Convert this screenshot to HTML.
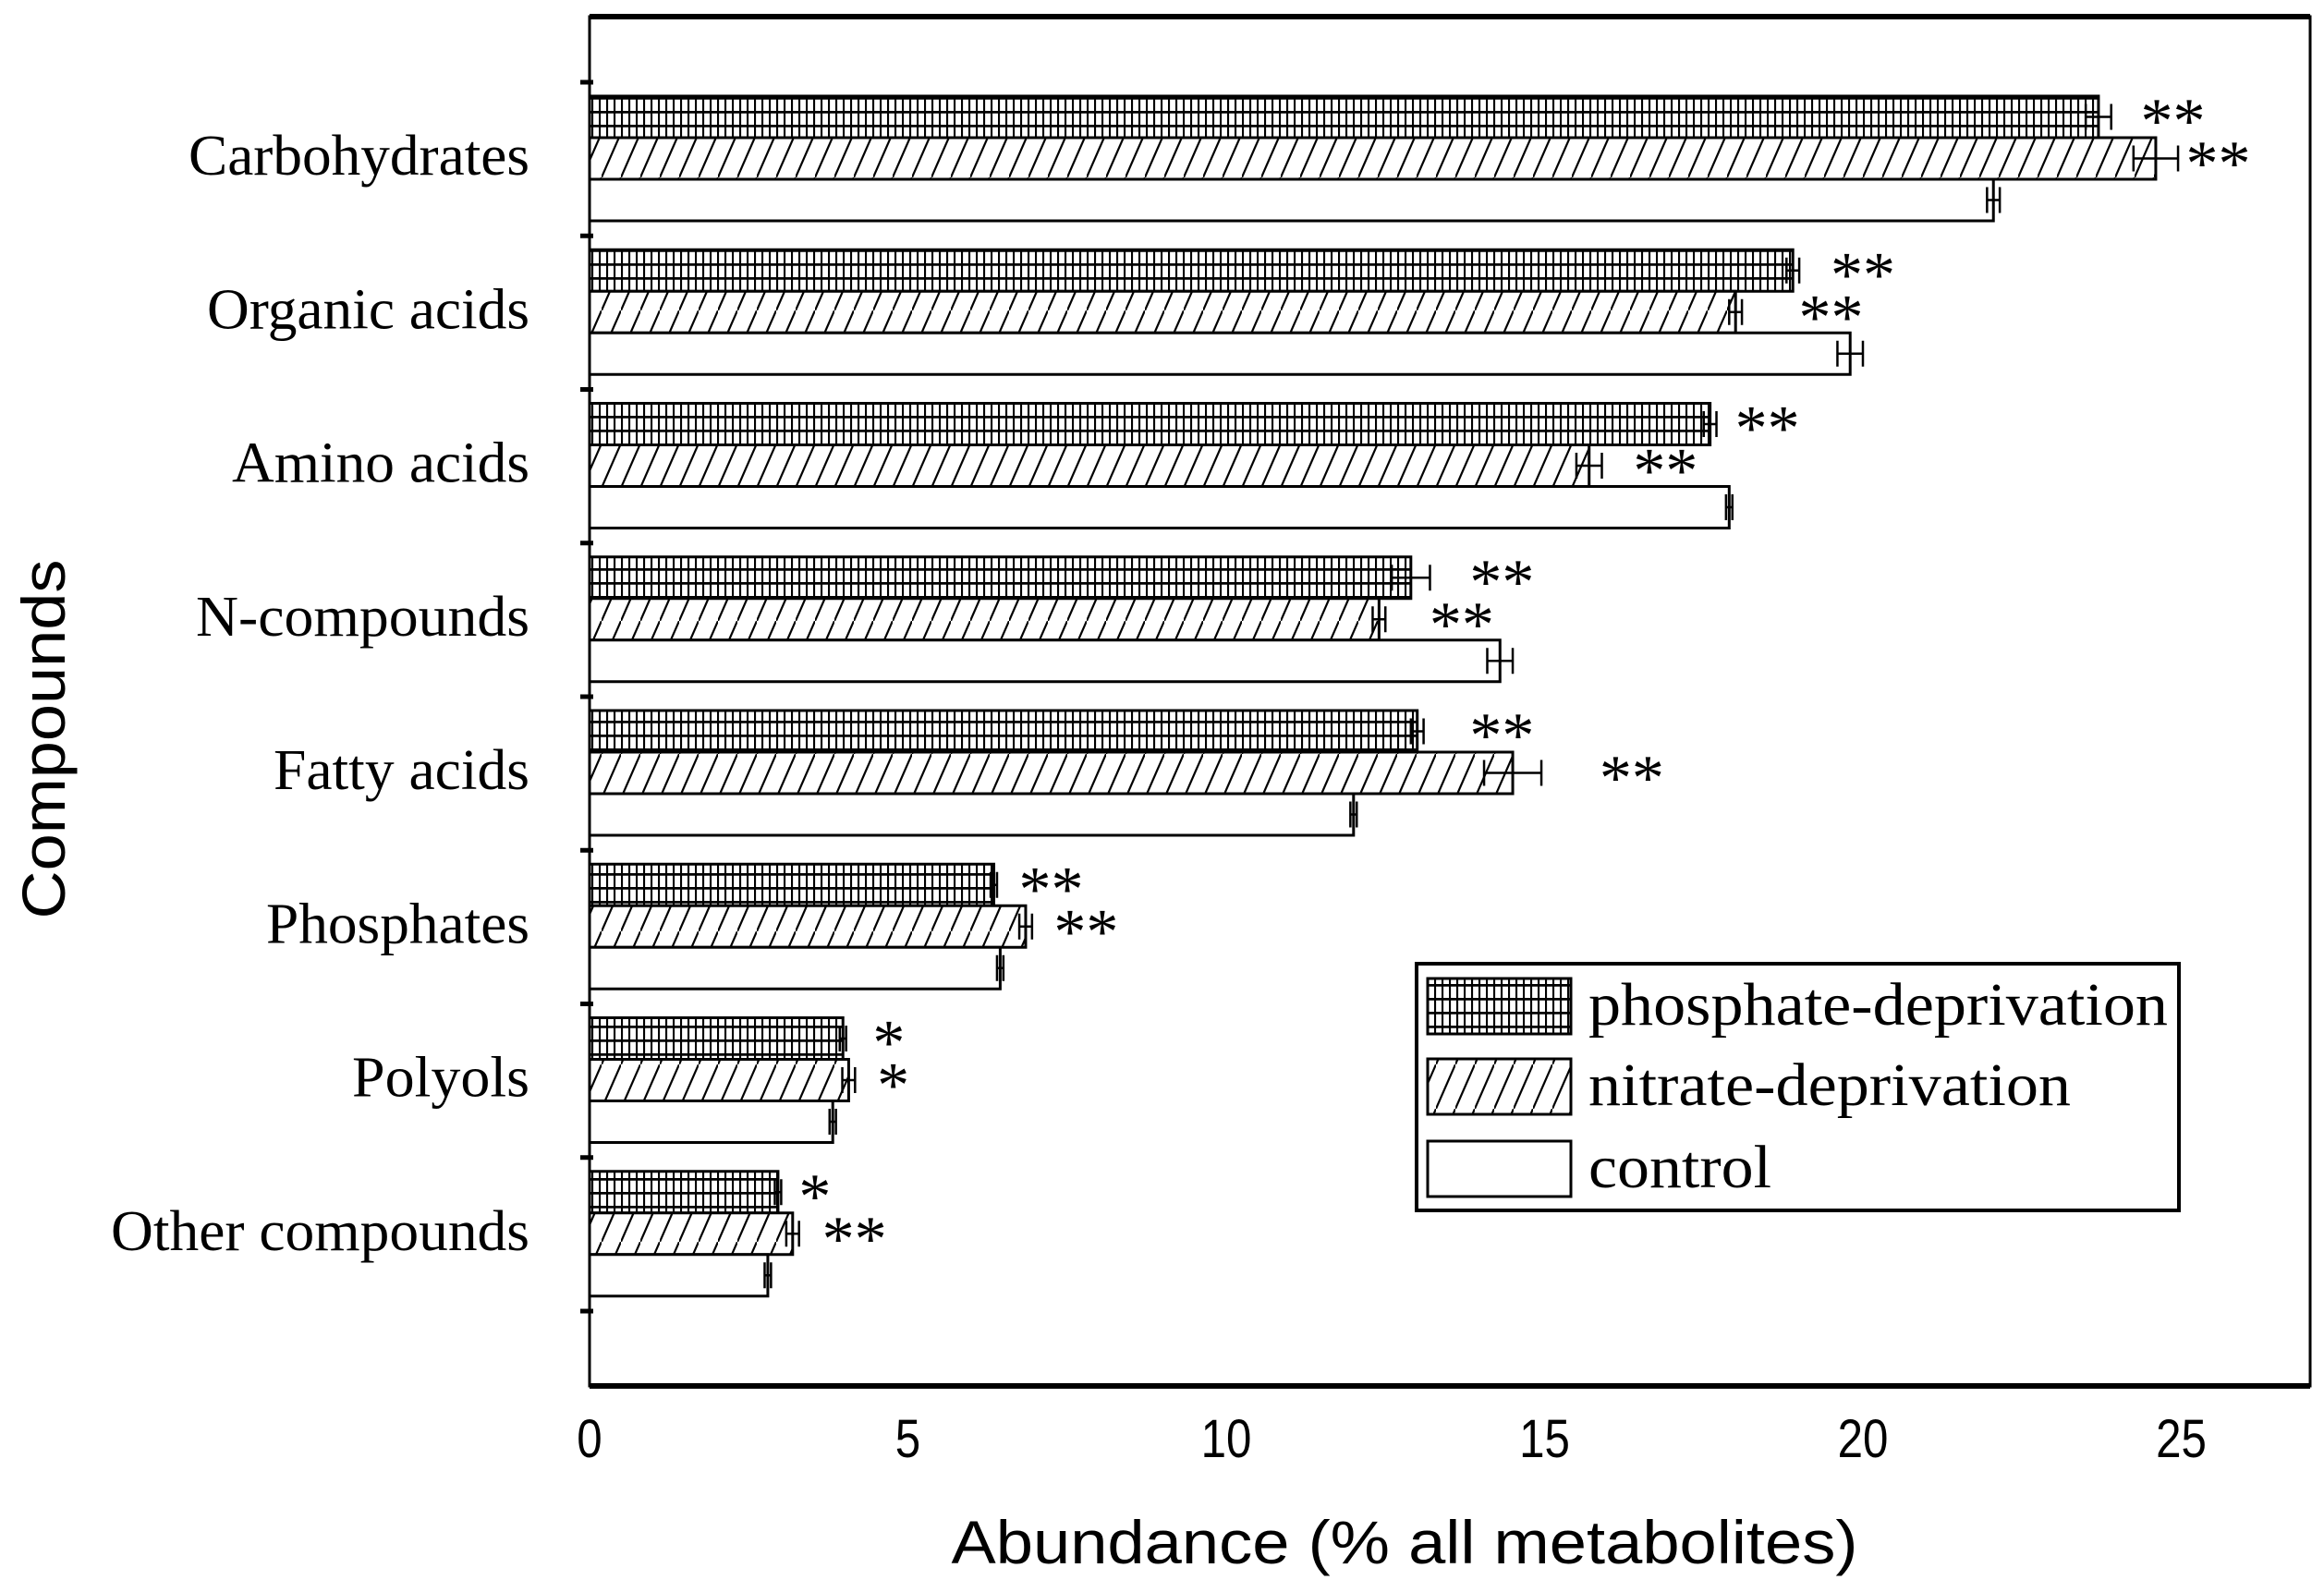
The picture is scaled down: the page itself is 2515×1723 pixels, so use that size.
<!DOCTYPE html>
<html><head><meta charset="utf-8"><style>
html,body{margin:0;padding:0;background:#fff;}
svg{display:block;}
</style></head><body>
<svg id="chart" width="2515" height="1723" viewBox="0 0 2515 1723" xmlns="http://www.w3.org/2000/svg">
<defs>
<pattern id="grid" width="8" height="15" patternUnits="userSpaceOnUse">
<rect width="8" height="15" fill="#fff"/>
<line x1="1" y1="0" x2="1" y2="15" stroke="#000" stroke-width="2.2"/>
<line x1="0" y1="1" x2="8" y2="1" stroke="#000" stroke-width="3.5"/>
</pattern>
<pattern id="hatch" width="21" height="48" patternUnits="userSpaceOnUse">
<rect width="21" height="48" fill="#fff"/>
<line x1="0" y1="48" x2="21" y2="0" stroke="#000" stroke-width="2.2"/>
</pattern>
</defs>
<g id="plot"></g>
</svg>
<script>
const categories = ["Carbohydrates","Organic acids","Amino acids","N-compounds","Fatty acids","Phosphates","Polyols","Other compounds"];
const phosValues = [23.7,18.9,17.6,12.9,13.0,6.35,3.98,2.96];
const nitrValues = [24.6,18.0,15.7,12.4,14.5,6.85,4.07,3.19];
const ctrlValues = [22.05,19.8,17.9,14.3,12.0,6.45,3.82,2.8];
const phosErr = [0.2,0.1,0.1,0.3,0.1,0.05,0.05,0.05];
const nitrErr = [0.35,0.1,0.2,0.1,0.45,0.1,0.1,0.1];
const ctrlErr = [0.1,0.2,0.05,0.2,0.05,0.05,0.05,0.05];
const phosSig = ["**","**","**","**","**","**","*","*"];
const nitrSig = ["**","**","**","**","**","**","*","**"];
const phosSigAt = [24.87,20.0,18.5,14.33,14.33,7.25,4.7,3.54];
const nitrSigAt = [25.58,19.5,16.9,13.7,16.37,7.8,4.77,4.16];
const xTicks = [0,5,10,15,20,25];
const labelWidths = [369,349,322,361,277,285,192,453];

const NS="http://www.w3.org/2000/svg";
const g=document.getElementById('plot');
const L=638,R=2500,T=18,B=1500,Y0=89,BAND=166.25;
const x=v=>L+v*68.9;
const band=i=>Y0+i*BAND;
function mk(tag,attrs,parent){const e=document.createElementNS(NS,tag);for(const k in attrs)e.setAttribute(k,attrs[k]);(parent||g).appendChild(e);return e;}

const frame=mk('rect',{x:L,y:T,width:R-L,height:B-T,fill:'none',stroke:'#000','stroke-width':3});


mk('line',{x1:L,y1:T,x2:R,y2:T,stroke:'#000','stroke-width':6});
mk('line',{x1:L,y1:B,x2:R,y2:B,stroke:'#000','stroke-width':6});

for(let i=0;i<=categories.length;i++){
  const t=mk('line',{x1:L-10,y1:band(i),x2:L+4,y2:band(i),stroke:'#000','stroke-width':5});
  
  
}
xTicks.forEach(v=>{
  const t=mk('text',{x:x(v),y:1577,'text-anchor':'middle','font-family':'Liberation Sans, sans-serif','font-size':58,transform:`translate(${x(v)*0.15},0) scale(0.85,1)`});
  t.textContent=v;
  
  
});

const series=[
 {vals:phosValues,err:phosErr,fill:'url(#grid)',name:'phosphate'},
 {vals:nitrValues,err:nitrErr,fill:'url(#hatch)',name:'nitrate'},
 {vals:ctrlValues,err:ctrlErr,fill:'#fff',name:'control'}];
categories.forEach((c,i)=>{
  const top=band(i)+15;
  series.forEach((s,j)=>{
    const y=top+j*45;
    const r=mk('rect',{x:L,y:y,width:x(s.vals[i])-L,height:45,fill:s.fill,stroke:'#000','stroke-width':3});
    
    
    const cy=y+22.5;
    const e=mk('path',{d:`M${x(s.vals[i]-s.err[i])} ${cy}H${x(s.vals[i]+s.err[i])}M${x(s.vals[i]+s.err[i])} ${cy-14}V${cy+14}M${x(s.vals[i]-s.err[i])} ${cy-14}V${cy+14}`,stroke:'#000','stroke-width':2.5,fill:'none'});
    
    
  });
  const lab=mk('text',{x:573,y:band(i)+100,'text-anchor':'end','font-family':'Liberation Serif, serif','font-size':62,textLength:labelWidths[i],lengthAdjust:'spacingAndGlyphs'});
  lab.textContent=c;
  
  
  const s1=mk('text',{x:x(phosSigAt[i]),y:top+50,'text-anchor':'middle','font-family':'Liberation Serif, serif','font-size':70});
  s1.textContent=phosSig[i];
  
  
  const s2=mk('text',{x:x(nitrSigAt[i]),y:top+96,'text-anchor':'middle','font-family':'Liberation Serif, serif','font-size':70});
  s2.textContent=nitrSig[i];
  
  
});

const xt=mk('text',{x:1520,y:1692,'text-anchor':'middle','font-family':'Liberation Sans, sans-serif','font-size':66,textLength:981,lengthAdjust:'spacingAndGlyphs'});
xt.textContent='Abundance (% all metabolites)';


const yt=mk('text',{x:0,y:0,'text-anchor':'middle','font-family':'Liberation Sans, sans-serif','font-size':66,textLength:389,lengthAdjust:'spacingAndGlyphs',transform:'translate(70,800) rotate(-90)'});
yt.textContent='Compounds';



const lg=mk('g',{});


mk('rect',{x:1533,y:1043,width:825,height:267,fill:'#fff',stroke:'#000','stroke-width':4},lg);
const legNames=['phosphate-deprivation','nitrate-deprivation','control'];
const legFills=['url(#grid)','url(#hatch)','#fff'];
const legW=[627,522,198];
const legY=[1059,1146,1235];
legNames.forEach((n,k)=>{
  const sw=mk('rect',{x:1545,y:legY[k],width:155,height:60,fill:legFills[k],stroke:'#000','stroke-width':3},lg);
  
  
  const t=mk('text',{x:1719,y:legY[k]+50,'font-family':'Liberation Serif, serif','font-size':66,textLength:legW[k],lengthAdjust:'spacingAndGlyphs'},lg);
  t.textContent=n;
  
  
});
</script>
</body></html>
